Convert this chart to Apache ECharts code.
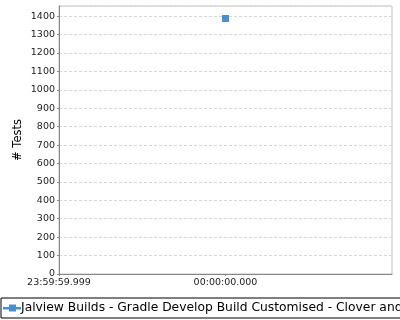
<!DOCTYPE html>
<html>
<head>
<meta charset="utf-8">
<script src="https://cdn.jsdelivr.net/npm/echarts@6/dist/echarts.min.js"></script>
<style>
  html, body { margin: 0; padding: 0; background: #fff; }
  #chart { width: 400px; height: 320px; }
</style>
</head>
<body>
<div id="chart"></div>
<script>
// Build run time offsets (ms relative to midnight) and test counts
const seriesName = 'Jalview Builds - Gradle Develop Build Customised - Clover and Test Results';
const runTimes = [0];
const testCounts = [1387];
// Tick labels for the time axis, keyed by millisecond offset
const xTickLabels = { '-1': '23:59:59.999', '0': '00:00:00.000' };
const yAxisTitle = '# Tests';

const chart = echarts.init(document.getElementById('chart'), null, { renderer: 'canvas' });

const labelFont = { fontFamily: 'DejaVu Sans', fontSize: 9.5, color: '#222' };

chart.setOption({
  animation: false,
  backgroundColor: '#ffffff',
  grid: {
    left: 59, top: 6, right: 8, bottom: 46,
    show: true, borderColor: '#c0c0c0', borderWidth: 1, backgroundColor: 'transparent'
  },
  legend: {
    show: true,
    left: 1, bottom: 2,
    padding: [4, 6, 4, 2],
    itemGap: 0,
    itemWidth: 18, itemHeight: 7,
    borderColor: '#000', borderWidth: 1,
    textStyle: { fontFamily: 'DejaVu Sans', fontSize: 12.3, color: '#000', padding: [0, 0, 0, -5] },
    data: [{ name: seriesName, icon: 'path://M0,2.5 L6,2.5 L6,0 L13,0 L13,2.5 L18,2.5 L18,5 L13,5 L13,7 L6,7 L6,5 L0,5 Z' }]
  },
  xAxis: {
    type: 'value',
    min: -1, max: 1, interval: 1,
    axisLine: { show: true, onZero: false, lineStyle: { color: '#888', width: 1 } },
    axisTick: { show: true, length: 2, lineStyle: { color: '#888' } },
    axisLabel: Object.assign({}, labelFont, {
      margin: 4,
      showMaxLabel: false,
      formatter: v => xTickLabels[String(v)] || ''
    }),
    splitLine: { show: false }
  },
  yAxis: {
    type: 'value',
    min: 0, max: 1455, interval: 100,
    name: yAxisTitle,
    nameLocation: 'middle',
    nameRotate: 90,
    nameGap: 35,
    nameMoveOverlap: false,
    nameTextStyle: { fontFamily: 'DejaVu Sans', fontSize: 11.5, color: '#000' },
    axisLine: { show: true, onZero: false, lineStyle: { color: '#888', width: 1 } },
    axisTick: { show: true, length: 2, lineStyle: { color: '#888' } },
    axisLabel: Object.assign({}, labelFont, {
      margin: 4,
      showMaxLabel: false,
      formatter: v => String(v)
    }),
    splitLine: { show: true, lineStyle: { color: '#d8d8d8', type: [3, 2], width: 1 } }
  },
  series: [{
    name: seriesName,
    type: 'line',
    data: runTimes.map((t, i) => [t, testCounts[i]]),
    symbol: 'rect',
    symbolSize: 7,
    showAllSymbol: true,
    itemStyle: { color: '#4a8fcb' },
    lineStyle: { color: '#4a8fcb', width: 2 }
  }]
});
</script>
</body>
</html>
